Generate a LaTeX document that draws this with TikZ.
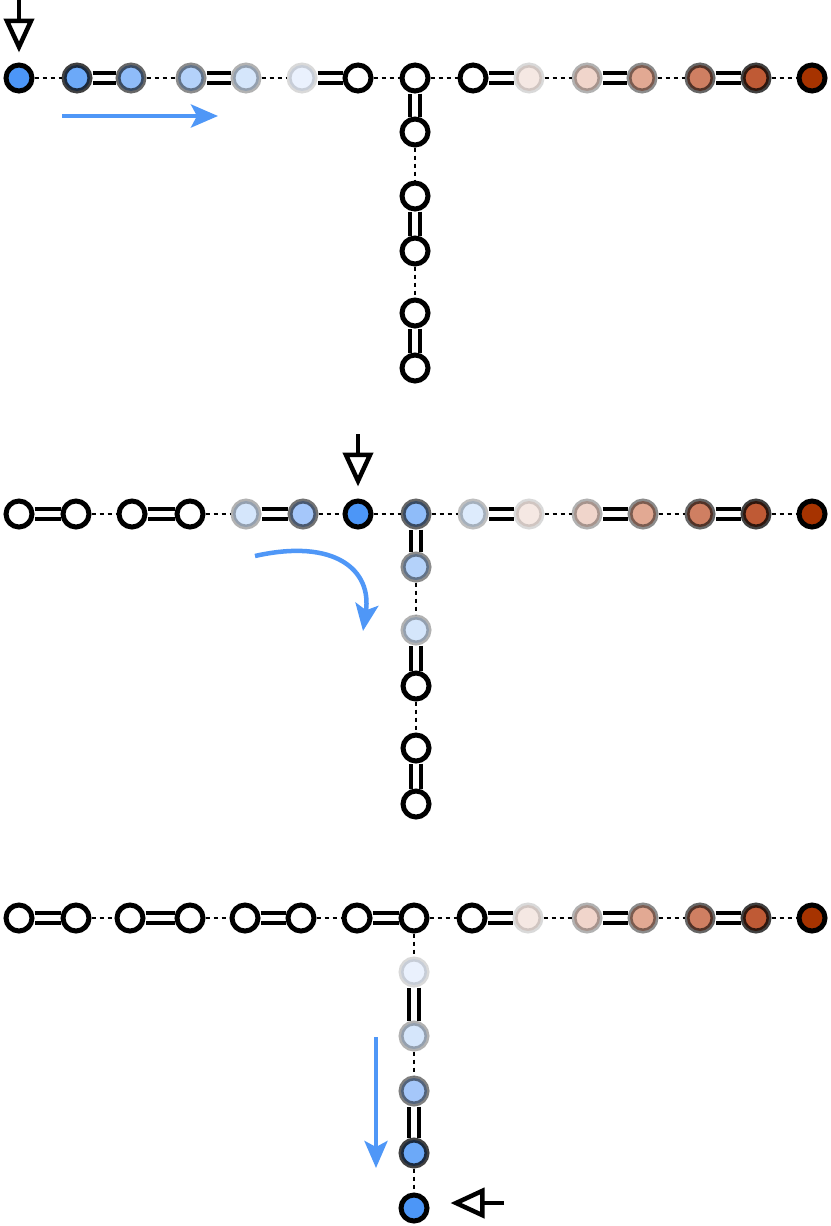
\documentclass[tikz,border=0pt]{standalone}
\usetikzlibrary{arrows.meta,backgrounds}
\definecolor{B6}{HTML}{4C96F7}
\definecolor{B5}{HTML}{6CA9F8}
\definecolor{B4}{HTML}{8FBCF9}
\definecolor{B45}{HTML}{A5C7FA}
\definecolor{B3}{HTML}{B4D2FA}
\definecolor{B2}{HTML}{D5E6FB}
\definecolor{B15}{HTML}{DDEBFC}
\definecolor{B1}{HTML}{EAF1FD}
\definecolor{R6}{HTML}{A63300}
\definecolor{R5}{HTML}{BF5A35}
\definecolor{R4}{HTML}{CF7F62}
\definecolor{R3}{HTML}{E2A993}
\definecolor{R2}{HTML}{F0D5CB}
\definecolor{R1}{HTML}{F5E8E3}
\definecolor{barrow}{HTML}{4F97F7}
\tikzset{
  nd/.style 2 args={circle, minimum size=26pt, inner sep=0pt, line width=5pt, draw=black, draw opacity=#2, fill=#1},
  wn/.style={nd={white}{1}},
  dbl/.style={line width=4pt, draw=black, double=white, double distance=6pt},
  dsh/.style={line width=1.6pt, dash pattern=on 4pt off 4pt},
  blk/.style={line width=4.5pt, -{Triangle[open, length=34pt, width=30pt]}},
  blu/.style={draw=barrow, line width=4.5pt, -{Stealth[length=27pt, width=23pt, inset=6pt]}}
}
\begin{document}
\begin{tikzpicture}[x=1pt,y=-1pt]
\useasboundingbox (0,0) rectangle (830,1226);
% ---------- panel 1 ----------
\def\ya{78}
\node[nd={B6}{1}]    (a1)  at (19,\ya) {};
\node[nd={B5}{.75}]  (a2)  at (77,\ya) {};
\node[nd={B4}{.6}]   (a3)  at (131,\ya) {};
\node[nd={B3}{.45}]  (a4)  at (191,\ya) {};
\node[nd={B2}{.3}]   (a5)  at (246,\ya) {};
\node[nd={B1}{.15}]  (a6)  at (302,\ya) {};
\node[wn]            (a7)  at (358,\ya) {};
\node[wn]            (a8)  at (415,\ya) {};
\node[wn]            (a9)  at (473,\ya) {};
\node[nd={R1}{.15}]  (a10) at (529,\ya) {};
\node[nd={R2}{.3}]   (a11) at (587,\ya) {};
\node[nd={R3}{.45}]  (a12) at (642,\ya) {};
\node[nd={R4}{.6}]   (a13) at (700,\ya) {};
\node[nd={R5}{.75}]  (a14) at (756,\ya) {};
\node[nd={R6}{1}]    (a15) at (812,\ya) {};
\node[wn] (av1) at (415,132) {};
\node[wn] (av2) at (415,196) {};
\node[wn] (av3) at (415,251) {};
\node[wn] (av4) at (415,313) {};
\node[wn] (av5) at (415,368) {};
% ---------- panel 2 ----------
\def\yb{514}
\node[wn]            (b1)  at (19,\yb) {};
\node[wn]            (b2)  at (76,\yb) {};
\node[wn]            (b3)  at (132,\yb) {};
\node[wn]            (b4)  at (190,\yb) {};
\node[nd={B2}{.3}]   (b5)  at (246,\yb) {};
\node[nd={B45}{.55}] (b6)  at (303,\yb) {};
\node[nd={B6}{1}]    (b7)  at (358,\yb) {};
\node[nd={B4}{.6}]   (b8)  at (416,\yb) {};
\node[nd={B15}{.25}] (b9)  at (473,\yb) {};
\node[nd={R1}{.15}]  (b10) at (529,\yb) {};
\node[nd={R2}{.3}]   (b11) at (587,\yb) {};
\node[nd={R3}{.45}]  (b12) at (643,\yb) {};
\node[nd={R4}{.6}]   (b13) at (700,\yb) {};
\node[nd={R5}{.75}]  (b14) at (756,\yb) {};
\node[nd={R6}{1}]    (b15) at (812,\yb) {};
\node[nd={B3}{.45}]  (bv1) at (416,567) {};
\node[nd={B2}{.3}]   (bv2) at (416,630) {};
\node[wn] (bv3) at (416,686) {};
\node[wn] (bv4) at (416,748) {};
\node[wn] (bv5) at (416,804) {};
% ---------- panel 3 ----------
\def\yc{918}
\node[wn]            (c1)  at (19,\yc) {};
\node[wn]            (c2)  at (76,\yc) {};
\node[wn]            (c3)  at (130,\yc) {};
\node[wn]            (c4)  at (190,\yc) {};
\node[wn]            (c5)  at (245,\yc) {};
\node[wn]            (c6)  at (301,\yc) {};
\node[wn]            (c7)  at (357,\yc) {};
\node[wn]            (c8)  at (414,\yc) {};
\node[wn]            (c9)  at (472,\yc) {};
\node[nd={R1}{.15}]  (c10) at (528,\yc) {};
\node[nd={R2}{.3}]   (c11) at (587,\yc) {};
\node[nd={R3}{.45}]  (c12) at (643,\yc) {};
\node[nd={R4}{.6}]   (c13) at (700,\yc) {};
\node[nd={R5}{.75}]  (c14) at (756,\yc) {};
\node[nd={R6}{1}]    (c15) at (812,\yc) {};
\node[nd={B1}{.15}]  (cv1) at (414,972) {};
\node[nd={B2}{.3}]   (cv2) at (414,1036) {};
\node[nd={B45}{.5}]  (cv3) at (414,1091) {};
\node[nd={B5}{.75}]  (cv4) at (414,1153) {};
\node[nd={B6}{1}]    (cv5) at (414,1208) {};
% ---------- connectors ----------
\begin{scope}[on background layer]
\draw[dsh] (a1)--(a2); \draw[dbl] (a2)--(a3); \draw[dsh] (a3)--(a4);
\draw[dbl] (a4)--(a5); \draw[dsh] (a5)--(a6); \draw[dbl] (a6)--(a7);
\draw[dsh] (a7)--(a8); \draw[dsh] (a8)--(a9); \draw[dbl] (a9)--(a10);
\draw[dsh] (a10)--(a11); \draw[dbl] (a11)--(a12); \draw[dsh] (a12)--(a13);
\draw[dbl] (a13)--(a14); \draw[dsh] (a14)--(a15);
\draw[dbl] (a8)--(av1); \draw[dsh] (av1)--(av2); \draw[dbl] (av2)--(av3);
\draw[dsh] (av3)--(av4); \draw[dbl] (av4)--(av5);
%
\draw[dbl] (b1)--(b2); \draw[dsh] (b2)--(b3); \draw[dbl] (b3)--(b4);
\draw[dsh] (b4)--(b5); \draw[dbl] (b5)--(b6); \draw[dsh] (b6)--(b7);
\draw[dsh] (b7)--(b8); \draw[dsh] (b8)--(b9); \draw[dbl] (b9)--(b10);
\draw[dsh] (b10)--(b11); \draw[dbl] (b11)--(b12); \draw[dsh] (b12)--(b13);
\draw[dbl] (b13)--(b14); \draw[dsh] (b14)--(b15);
\draw[dbl] (b8)--(bv1); \draw[dsh] (bv1)--(bv2); \draw[dbl] (bv2)--(bv3);
\draw[dsh] (bv3)--(bv4); \draw[dbl] (bv4)--(bv5);
%
\draw[dbl] (c1)--(c2); \draw[dsh] (c2)--(c3); \draw[dbl] (c3)--(c4);
\draw[dsh] (c4)--(c5); \draw[dbl] (c5)--(c6); \draw[dsh] (c6)--(c7);
\draw[dbl] (c7)--(c8); \draw[dsh] (c8)--(c9); \draw[dbl] (c9)--(c10);
\draw[dsh] (c10)--(c11); \draw[dbl] (c11)--(c12); \draw[dsh] (c12)--(c13);
\draw[dbl] (c13)--(c14); \draw[dsh] (c14)--(c15);
\draw[dsh] (c8)--(cv1); \draw[dbl] (cv1)--(cv2); \draw[dsh] (cv2)--(cv3);
\draw[dbl] (cv3)--(cv4); \draw[dsh] (cv4)--(cv5);
\end{scope}
% ---------- arrows ----------
\coordinate (ka) at (19,0);
\coordinate (kb) at (358,434);
\coordinate (kc) at (504,1203);
\draw[blk, shorten >=10pt] (ka) -- (a1);
\draw[blk, shorten >=12pt] (kb) -- (b7);
\draw[blk, shorten >=21pt] (kc) -- (kc -| cv5.east);
\coordinate (u1) at (62,116);
\coordinate (u2) at (218,116);
\draw[blu] (u1) -- (u2);
\coordinate (v1) at (255,556);
\coordinate (v2) at (363,631);
\draw[blu] (v1) .. controls (335,538) and (372,570) .. (v2);
\coordinate (w1) at (376,1037);
\coordinate (w2) at (376,1168);
\draw[blu] (w1) -- (w2);
\end{tikzpicture}
\end{document}
